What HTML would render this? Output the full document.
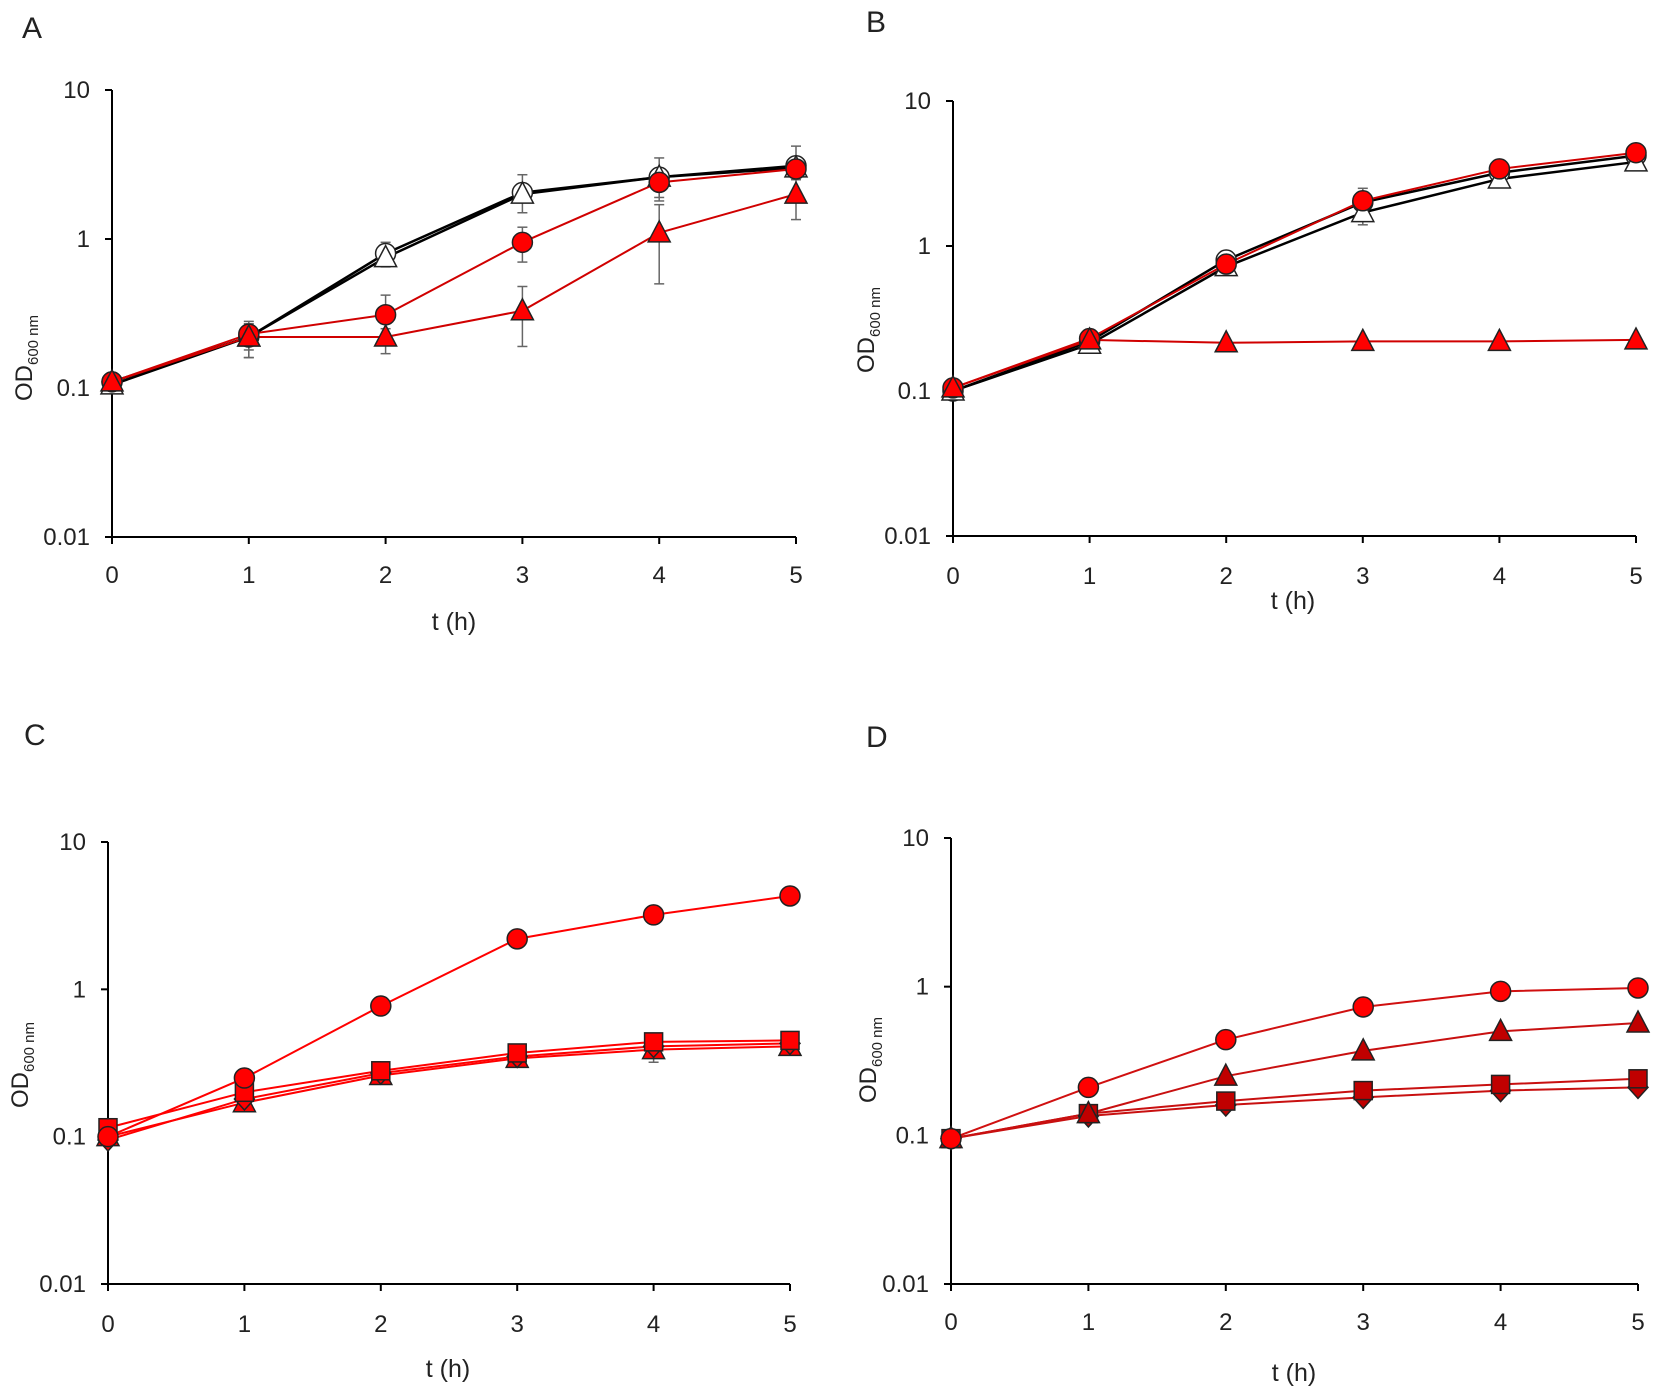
<!DOCTYPE html>
<html><head><meta charset="utf-8"><style>
html,body{margin:0;padding:0;background:#fff}
svg{display:block}
text{font-family:"Liberation Sans",sans-serif;fill:#222}
</style></head><body>
<svg id="s" width="1654" height="1388" viewBox="0 0 1654 1388" xmlns="http://www.w3.org/2000/svg"></svg>
<script>
const S=document.getElementById('s');let h='';
const R='#ff0000',DR='#c00000';
function panel(P){
 const {x0,x5,y10,y001,lab,lx,ly,tly,tx,ty,ylx,yly}=P;
 const X=t=>x0+(x5-x0)*t/5, Y=v=>y10+(y001-y10)*(1-Math.log10(v))/3;
 h+=`<text x="${lx}" y="${ly}" font-size="30">${lab}</text>`;
 h+=`<line x1="${x0}" y1="${y10}" x2="${x0}" y2="${y001}" stroke="#000" stroke-width="2"/>`;
 h+=`<line x1="${x0}" y1="${y001}" x2="${x5}" y2="${y001}" stroke="#000" stroke-width="2"/>`;
 [[10,'10'],[1,'1'],[0.1,'0.1'],[0.01,'0.01']].forEach(([v,s])=>{h+=`<line x1="${x0-7}" y1="${Y(v)}" x2="${x0}" y2="${Y(v)}" stroke="#000" stroke-width="2"/><text x="${x0-22}" y="${Y(v)+8}" font-size="24" text-anchor="end">${s}</text>`;});
 for(let t=0;t<=5;t++){h+=`<line x1="${X(t)}" y1="${y001}" x2="${X(t)}" y2="${y001+7}" stroke="#000" stroke-width="2"/><text x="${X(t)}" y="${tly+8}" font-size="24" text-anchor="middle">${t}</text>`;}
 h+=`<text x="${tx}" y="${ty+8}" font-size="25" text-anchor="middle">t (h)</text>`;
 h+=`<text transform="translate(${ylx+8},${yly}) rotate(-90)" font-size="24" text-anchor="middle">OD<tspan font-size="15" dy="6">600 nm</tspan></text>`;
 P.series.forEach(s=>{
  const pts=s.d.map((v,i)=>[X(i),Y(v)]);
  if(s.err)s.err.forEach((e,i)=>{if(!e)return;const [a,b]=e;h+=`<line x1="${X(i)}" y1="${Y(a)}" x2="${X(i)}" y2="${Y(b)}" stroke="#666" stroke-width="1.5"/><line x1="${X(i)-5}" y1="${Y(a)}" x2="${X(i)+5}" y2="${Y(a)}" stroke="#666" stroke-width="1.5"/><line x1="${X(i)-5}" y1="${Y(b)}" x2="${X(i)+5}" y2="${Y(b)}" stroke="#666" stroke-width="1.5"/>`;});
  h+=`<polyline points="${pts.map(p=>p.join(',')).join(' ')}" fill="none" stroke="${s.lc}" stroke-width="${s.lw||2}"/>`;
 });
 P.series.forEach(s=>{
  s.d.forEach((v,i)=>{const x=X(i),y=Y(v);const f=s.f;
   if(s.m=='o')h+=`<circle cx="${x}" cy="${y}" r="10" fill="${f}" stroke="#222" stroke-width="1.5"/>`;
   else if(s.m=='^')h+=`<polygon points="${x},${y-12} ${x+11},${y+9} ${x-11},${y+9}" fill="${f}" stroke="#222" stroke-width="1.5"/>`;
   else if(s.m=='s')h+=`<rect x="${x-9}" y="${y-9}" width="18" height="18" fill="${f}" stroke="#222" stroke-width="1.5"/>`;
   else if(s.m=='d')h+=`<polygon points="${x},${y-11} ${x+10},${y} ${x},${y+11} ${x-10},${y}" fill="${f}" stroke="#222" stroke-width="1.5"/>`;
  });
 });
}
panel({x0:112,x5:796,y10:90,y001:537,lab:'A',lx:22,ly:38,tly:575,tx:454,ty:622,ylx:24,yly:358,series:[
 {d:[0.11,0.22,0.8,2.05,2.6,3.1],m:'o',f:'#fff',lc:'#000',lw:2.5,err:[0,[0.18,0.28],[0.65,0.95],[1.5,2.7],[1.9,3.5],[2.5,4.2]]},
 {d:[0.105,0.22,0.75,2.0,2.6,3.0],m:'^',f:'#fff',lc:'#000',lw:2.5},
 {d:[0.11,0.23,0.31,0.95,2.4,2.95],m:'o',f:R,lc:'#d00000',err:[0,[0.16,0.27],[0.25,0.42],[0.7,1.2],[1.8,2.9],0]},
 {d:[0.11,0.22,0.22,0.33,1.1,2.0],m:'^',f:R,lc:'#d00000',err:[0,[0.16,0.26],[0.17,0.27],[0.19,0.48],[0.5,1.7],[1.35,2.6]]}]});
panel({x0:953,x5:1636,y10:101,y001:536,lab:'B',lx:866,ly:32,tly:576,tx:1293,ty:601,ylx:866,yly:330,series:[
 {d:[0.1,0.22,0.8,2.0,3.2,4.2],m:'o',f:'#fff',lc:'#000',lw:2.5,err:[0,0,0,[1.4,2.5],0,0]},
 {d:[0.1,0.21,0.72,1.7,2.9,3.8],m:'^',f:'#fff',lc:'#000',lw:2.5},
 {d:[0.105,0.23,0.75,2.05,3.4,4.4],m:'o',f:R,lc:'#d00000'},
 {d:[0.105,0.225,0.215,0.22,0.22,0.225],m:'^',f:R,lc:'#d00000'}]});
panel({x0:108,x5:790,y10:842,y001:1284,lab:'C',lx:24,ly:745,tly:1324,tx:448,ty:1369,ylx:20,yly:1065,series:[
 {d:[0.1,0.17,0.26,0.34,0.39,0.41],m:'^',f:R,lc:R,err:[0,0,0,0,[0.32,0.45],0]},
 {d:[0.095,0.18,0.27,0.35,0.41,0.43],m:'d',f:R,lc:R},
 {d:[0.115,0.2,0.28,0.37,0.44,0.45],m:'s',f:R,lc:R},
 {d:[0.1,0.25,0.77,2.2,3.2,4.3],m:'o',f:R,lc:R}]});
panel({x0:951,x5:1638,y10:838,y001:1284,lab:'D',lx:866,ly:747,tly:1322,tx:1294,ty:1373,ylx:868,yly:1060,series:[
 {d:[0.095,0.135,0.16,0.18,0.2,0.21],m:'d',f:DR,lc:'#c81010'},
 {d:[0.095,0.14,0.17,0.2,0.22,0.24],m:'s',f:DR,lc:'#c81010'},
 {d:[0.095,0.14,0.25,0.37,0.5,0.57],m:'^',f:DR,lc:'#c81010'},
 {d:[0.095,0.21,0.44,0.73,0.93,0.98],m:'o',f:R,lc:'#d01010'}]});
S.innerHTML=h;
</script>
</body></html>
